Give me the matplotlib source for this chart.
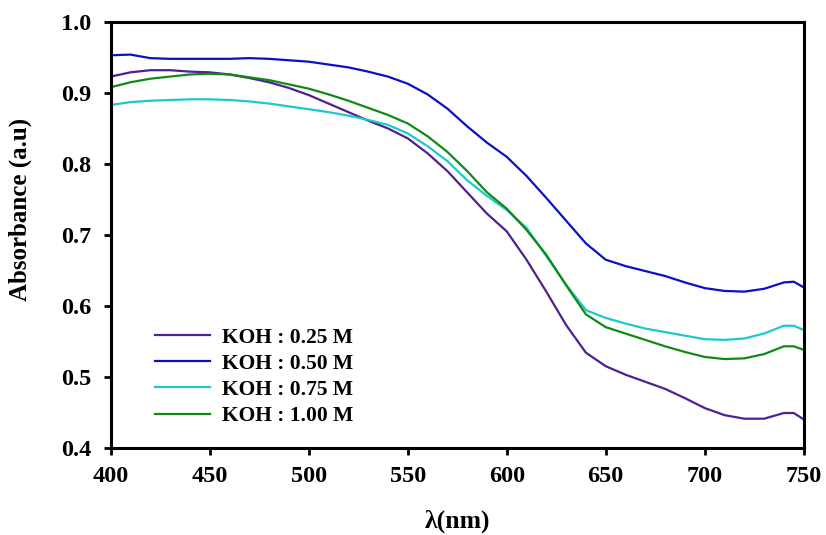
import matplotlib
matplotlib.use("Agg")
import matplotlib.pyplot as plt

wavelength = [400, 410, 420, 430, 440, 450, 460, 470, 480, 490, 500, 510, 520, 530, 540,
              550, 560, 570, 580, 590, 600, 610, 620, 630, 640, 650, 660, 670, 680, 690,
              700, 710, 720, 730, 740, 745, 750]

koh_025 = [0.923, 0.929, 0.932, 0.932, 0.930, 0.929, 0.926, 0.921, 0.915, 0.907, 0.897,
           0.885, 0.873, 0.861, 0.850, 0.836, 0.815, 0.790, 0.760, 0.730, 0.705, 0.665,
           0.620, 0.573, 0.534, 0.515, 0.503, 0.493, 0.483, 0.470, 0.456, 0.446, 0.441,
           0.441, 0.449, 0.449, 0.440]
koh_050 = [0.953, 0.954, 0.949, 0.948, 0.948, 0.948, 0.948, 0.949, 0.948, 0.946, 0.944,
           0.940, 0.936, 0.930, 0.923, 0.913, 0.898, 0.878, 0.853, 0.830, 0.810, 0.783,
           0.752, 0.720, 0.688, 0.665, 0.656, 0.649, 0.642, 0.633, 0.625, 0.621, 0.620,
           0.624, 0.633, 0.634, 0.626]
koh_075 = [0.883, 0.887, 0.889, 0.890, 0.891, 0.891, 0.890, 0.888, 0.885, 0.881, 0.877,
           0.873, 0.868, 0.862, 0.855, 0.843, 0.825, 0.804, 0.777, 0.755, 0.735, 0.710,
           0.670, 0.630, 0.594, 0.583, 0.575, 0.568, 0.563, 0.558, 0.553, 0.552, 0.554,
           0.561, 0.572, 0.572, 0.566]
koh_100 = [0.908, 0.915, 0.920, 0.923, 0.926, 0.927, 0.926, 0.922, 0.918, 0.912, 0.906,
           0.898, 0.889, 0.879, 0.869, 0.857, 0.839, 0.817, 0.790, 0.760, 0.737, 0.707,
           0.672, 0.629, 0.588, 0.570, 0.561, 0.552, 0.543, 0.535, 0.528, 0.525, 0.526,
           0.532, 0.543, 0.543, 0.538]

labels = ["KOH : 0.25 M", "KOH : 0.50 M", "KOH : 0.75 M", "KOH : 1.00 M"]
colors = ["#4f1f96", "#0a10c8", "#1ec8cc", "#118a14"]
series = [koh_025, koh_050, koh_075, koh_100]

x_ticks = [400, 450, 500, 550, 600, 650, 700, 750]
y_ticks = [0.4, 0.5, 0.6, 0.7, 0.8, 0.9, 1.0]

plt.rcParams['font.family'] = ['Liberation Serif', 'DejaVu Serif']
plt.rcParams['font.weight'] = 'bold'

fig = plt.figure(figsize=(8.26, 5.35), dpi=100)
ax = fig.add_axes([0.134, 0.163, 0.839, 0.796])

for y, lab, c in zip(series, labels, colors):
    ax.plot(wavelength, y, color=c, lw=1.6, label=lab)

ax.set_xlim(400, 750)
ax.set_ylim(0.4, 1.0)
ax.set_xticks(x_ticks)
ax.set_yticks(y_ticks)
ax.set_xticklabels([str(v) for v in x_ticks], fontsize=17.5, fontweight='bold')
ax.set_yticklabels([f"{v:.1f}" for v in y_ticks], fontsize=17.5, fontweight='bold')
ax.tick_params(axis='both', direction='out', length=5, width=2)
ax.tick_params(axis='x', pad=8)
ax.tick_params(axis='y', pad=9)

for s in ax.spines.values():
    s.set_linewidth(2.2)
    s.set_color('black')

ax.set_ylabel("Absorbance (a.u)", fontsize=18, fontweight='bold', va='center')
ax.yaxis.set_label_coords(-0.13, 0.56)
ax.set_xlabel("λ(nm)", fontsize=18.5, fontweight='bold', va='top')
ax.xaxis.set_label_coords(0.5, -0.145)

leg = ax.legend(loc='upper left', bbox_to_anchor=(0.064, 0.282), frameon=False,
                fontsize=15.5, handlelength=2.56, labelspacing=0.28, handletextpad=0.56,
                borderaxespad=0.0, borderpad=0.0)
for t in leg.get_texts():
    t.set_fontweight('bold')

fig.savefig("out.png", dpi=100)
